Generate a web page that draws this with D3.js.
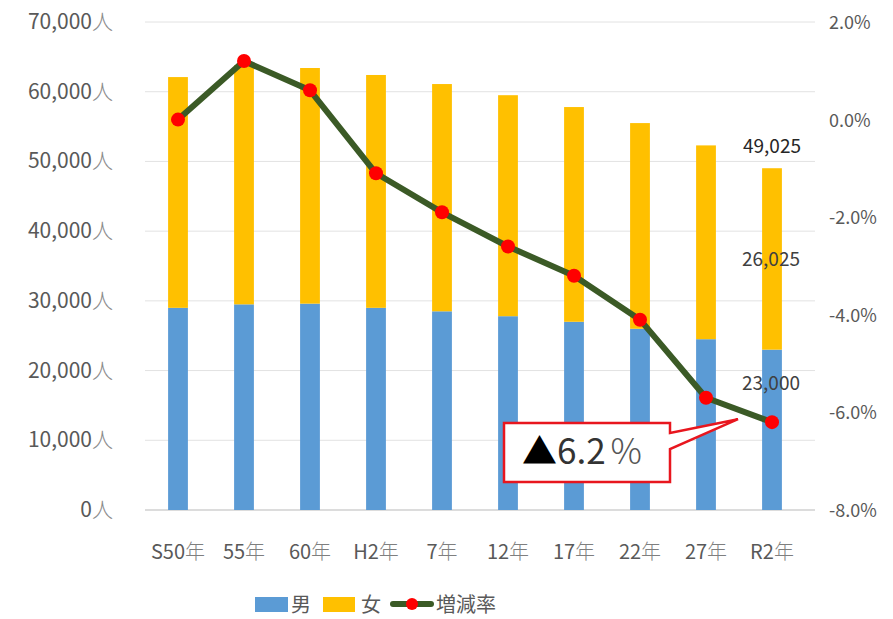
<!DOCTYPE html>
<html>
<head>
<meta charset="utf-8">
<script src="https://cdn.jsdelivr.net/npm/d3@7"></script>
<style>
  body { margin: 0; background: #fff; }
  text { font-family: "Noto Sans CJK JP", "Noto Sans", sans-serif; }
</style>
</head>
<body>
<svg id="chart" width="893" height="619"></svg>
<script>
// 年ごとの人口（男・女）と増減率
var years = ["S50年", "55年", "60年", "H2年", "7年", "12年", "17年", "22年", "27年", "R2年"];
var male = [29000, 29500, 29600, 29000, 28500, 27800, 27000, 26000, 24500, 23000];
var female = [33100, 34300, 33800, 33400, 32600, 31700, 30800, 29500, 27800, 26025];
var rate = [0.0, 1.2, 0.6, -1.1, -1.9, -2.6, -3.2, -4.1, -5.7, -6.2];
var leftTicks = [0, 10000, 20000, 30000, 40000, 50000, 60000, 70000];
var rightTicks = [2, 0, -2, -4, -6, -8];

var svg = d3.select("#chart");
var plotL = 145, plotR = 805, plotT = 22, plotB = 510;

var x = d3.scaleBand().domain(years).range([plotL, plotR]).paddingInner(0.7).paddingOuter(0.35);
var y = d3.scaleLinear().domain([0, 70000]).range([plotB, plotT]);
var y2 = d3.scaleLinear().domain([-8, 2]).range([plotB, plotT]);

// grid lines
svg.append("g").selectAll("line").data(leftTicks).join("line")
    .attr("x1", plotL).attr("x2", 815)
    .attr("y1", d => y(d)).attr("y2", d => y(d))
    .attr("stroke", d => d === 0 ? "#d0d0d0" : "#e2e2e2")
    .attr("stroke-width", d => d === 0 ? 1.5 : 1);

// left axis labels
var ll = svg.append("g").selectAll("text").data(leftTicks).join("text")
    .attr("x", 113).attr("y", d => y(d) + 7)
    .attr("text-anchor", "end")
    .attr("font-size", 21).attr("fill", "#595959");
ll.append("tspan").text(d => d3.format(",")(d));
ll.append("tspan").attr("fill", "#8c8c8c").attr("font-weight", 300).text("人");

// right axis labels
svg.append("g").selectAll("text").data(rightTicks).join("text")
    .attr("x", 829).attr("y", d => y2(d) + 7)
    .attr("font-size", 18).attr("fill", "#595959")
    .text(d => d.toFixed(1) + "%");

// stacked bars
var stack = years.map((yr, i) => ({ year: yr, m: male[i], f: female[i] }));
var bars = svg.append("g");
bars.selectAll("rect.m").data(stack).join("rect")
    .attr("class", "m")
    .attr("x", d => x(d.year)).attr("width", x.bandwidth())
    .attr("y", d => y(d.m)).attr("height", d => y(0) - y(d.m))
    .attr("fill", "#5B9BD5");
bars.selectAll("rect.f").data(stack).join("rect")
    .attr("class", "f")
    .attr("x", d => x(d.year)).attr("width", x.bandwidth())
    .attr("y", d => y(d.m + d.f)).attr("height", d => y(d.m) - y(d.m + d.f))
    .attr("fill", "#FFC000");

// x labels
var xl = svg.append("g").selectAll("text").data(years).join("text")
    .attr("x", d => x(d) + x.bandwidth() / 2).attr("y", 559)
    .attr("text-anchor", "middle")
    .attr("font-size", 20).attr("fill", "#595959");
xl.append("tspan").text(d => d.replace("年", ""));
xl.append("tspan").attr("fill", "#7f7f7f").attr("font-weight", 300).text("年");

// rate line
var cx = i => x(years[i]) + x.bandwidth() / 2;
var line = d3.line().x((d, i) => cx(i)).y(d => y2(d));
svg.append("path").datum(rate)
    .attr("d", line).attr("fill", "none")
    .attr("stroke", "#3B5A26").attr("stroke-width", 6)
    .attr("stroke-linejoin", "round");
svg.append("g").selectAll("circle").data(rate).join("circle")
    .attr("cx", (d, i) => cx(i)).attr("cy", d => y2(d))
    .attr("r", 7).attr("fill", "#FF0000");

// data labels for R2
var last = years.length - 1;
var lx = cx(last);
svg.append("text").attr("x", lx).attr("y", y(male[last] + female[last]) - 15)
    .attr("text-anchor", "middle").attr("font-size", 19).attr("fill", "#262626")
    .text(d3.format(",")(male[last] + female[last]));
svg.append("text").attr("x", lx - 1).attr("y", y(male[last] + female[last] / 2) + 7)
    .attr("text-anchor", "middle").attr("font-size", 19).attr("fill", "#404040")
    .text(d3.format(",")(female[last]));
svg.append("text").attr("x", lx - 1).attr("y", y(male[last]) + 40)
    .attr("text-anchor", "middle").attr("font-size", 19).attr("fill", "#404040")
    .text(d3.format(",")(male[last]));

// callout
var bx = 504, by = 423, bw = 166, bh = 59;
var tipX = lx - 34, tipY = y2(rate[last]) - 3;
svg.append("path")
    .attr("d", "M" + bx + "," + by + " H" + (bx + bw) + " V" + (by + 10) +
        " L" + tipX + "," + tipY + " L" + (bx + bw) + "," + (by + 26) +
        " V" + (by + bh) + " H" + bx + " Z")
    .attr("fill", "#fff").attr("stroke", "#E8161E").attr("stroke-width", 2.5);
var ct = svg.append("text").attr("x", bx + 18).attr("y", by + 41).attr("font-size", 35);
ct.append("tspan").attr("fill", "#000").text("▲");
ct.append("tspan").attr("fill", "#333").text("6.2");
ct.append("tspan").attr("fill", "#555").attr("font-weight", 300).attr("dx", 5).text("%");

// legend
var lg = svg.append("g");
lg.append("rect").attr("x", 255).attr("y", 597).attr("width", 33).attr("height", 15).attr("fill", "#5B9BD5");
lg.append("text").attr("x", 291).attr("y", 612).attr("font-size", 20).attr("fill", "#595959").text("男");
lg.append("rect").attr("x", 323).attr("y", 597).attr("width", 32).attr("height", 15).attr("fill", "#FFC000");
lg.append("text").attr("x", 361).attr("y", 612).attr("font-size", 20).attr("fill", "#595959").text("女");
lg.append("line").attr("x1", 393).attr("x2", 431).attr("y1", 604).attr("y2", 604)
    .attr("stroke", "#3B5A26").attr("stroke-width", 6).attr("stroke-linecap", "round");
lg.append("circle").attr("cx", 412).attr("cy", 604).attr("r", 6).attr("fill", "#FF0000");
lg.append("text").attr("x", 436).attr("y", 612).attr("font-size", 20).attr("fill", "#595959").text("増減率");
</script>
</body>
</html>
